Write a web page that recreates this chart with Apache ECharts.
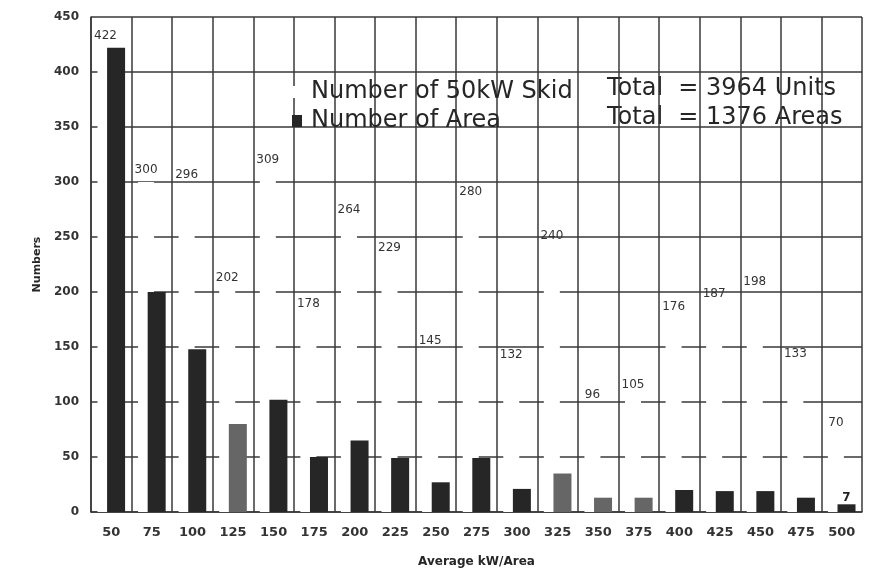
<!DOCTYPE html>
<html>
<head>
<meta charset="utf-8">
<script src="https://cdn.jsdelivr.net/npm/echarts@6/dist/echarts.min.js"></script>
<style>
  html, body { margin: 0; padding: 0; background: #fff; }
  #chart { width: 871px; height: 573px; }
</style>
</head>
<body>
<div id="chart"></div>
<script>
// average kW per area (x categories)
var categories = ['50', '75', '100', '125', '150', '175', '200', '225', '250', '275',
  '300', '325', '350', '375', '400', '425', '450', '475', '500'];

// number of 50kW skids (white bars, only the labels show)
var skidUnits = [422, 300, 296, 202, 309, 178, 264, 229, 145, 280,
  132, 240, 96, 105, 176, 187, 198, 133, 70];

// number of areas (dark bars)
var areaCounts = [422, 200, 148, 80, 102, 50, 65, 49, 27, 49,
  21, 35, 13, 13, 20, 19, 19, 13, 7];

// bars that come out lighter in the print
var greyBars = ['125', '325', '350', '375'];

var yTicks = [0, 50, 100, 150, 200, 250, 300, 350, 400, 450];

var lineCol = '#383838';
var txtCol = '#262626';
var font = '"DejaVu Sans", "Liberation Sans", Arial, sans-serif';

var areaData = areaCounts.map(function (v, i) {
  var grey = greyBars.indexOf(categories[i]) >= 0;
  return {
    value: v,
    itemStyle: { color: grey ? '#666666' : '#262626' },
    label: { show: i === areaCounts.length - 1 }
  };
});

var myChart = echarts.init(document.getElementById('chart'));
myChart.setOption({
  backgroundColor: '#fff',
  animation: false,
  textStyle: { fontFamily: font },
  grid: { left: 91, right: 9, top: 17, bottom: 60 },
  legend: {
    orient: 'vertical',
    left: 287,
    top: 75,
    itemWidth: 10,
    itemHeight: 12,
    itemGap: 5,
    selectedMode: false,
    textStyle: { fontSize: 24, lineHeight: 24, color: txtCol, padding: [0, 0, 0, 4], fontFamily: font },
    data: [
      { name: 'Number of 50kW Skid', icon: 'rect', itemStyle: { color: '#fff' } },
      { name: 'Number of Area', icon: 'rect' }
    ]
  },
  graphic: [
    { type: 'text', x: 607, y: 89, style: { text: 'Total  = 3964 Units', font: '24px ' + font, fill: txtCol, verticalAlign: 'middle' } },
    { type: 'text', x: 607, y: 118, style: { text: 'Total  = 1376 Areas', font: '24px ' + font, fill: txtCol, verticalAlign: 'middle' } }
  ],
  xAxis: {
    type: 'category',
    data: categories,
    name: 'Average kW/Area',
    nameLocation: 'middle',
    nameGap: 44,
    nameTextStyle: { fontSize: 12, fontWeight: 'bold', color: txtCol },
    axisLine: { lineStyle: { color: lineCol, width: 1.5 } },
    axisTick: { show: false },
    axisLabel: { fontSize: 13, fontWeight: 'bold', color: '#333', margin: 14 },
    splitLine: { show: true, interval: 0, lineStyle: { color: lineCol, width: 1.5 } }
  },
  yAxis: {
    type: 'value',
    min: yTicks[0],
    max: yTicks[yTicks.length - 1],
    interval: 50,
    name: 'Numbers',
    nameLocation: 'middle',
    nameGap: 48,
    nameTextStyle: { fontSize: 11, fontWeight: 'bold', color: txtCol },
    axisLine: { show: true, lineStyle: { color: lineCol, width: 1.5 } },
    axisTick: { show: false },
    axisLabel: { fontSize: 12, fontWeight: 'bold', color: '#333', margin: 12 },
    splitLine: { show: true, lineStyle: { color: lineCol, width: 1.5 } }
  },
  series: [
    {
      name: 'Number of 50kW Skid',
      type: 'bar',
      data: skidUnits,
      barWidth: 16,
      barGap: '-40%',
      itemStyle: { color: '#fff' },
      label: { show: true, position: 'top', distance: 6, fontSize: 12, color: '#333' }
    },
    {
      name: 'Number of Area',
      type: 'bar',
      data: areaData,
      barWidth: 18,
      itemStyle: { color: '#262626' },
      label: { position: 'top', distance: 0, fontSize: 12, fontWeight: 'bold', color: '#222' }
    }
  ]
});
</script>
</body>
</html>
